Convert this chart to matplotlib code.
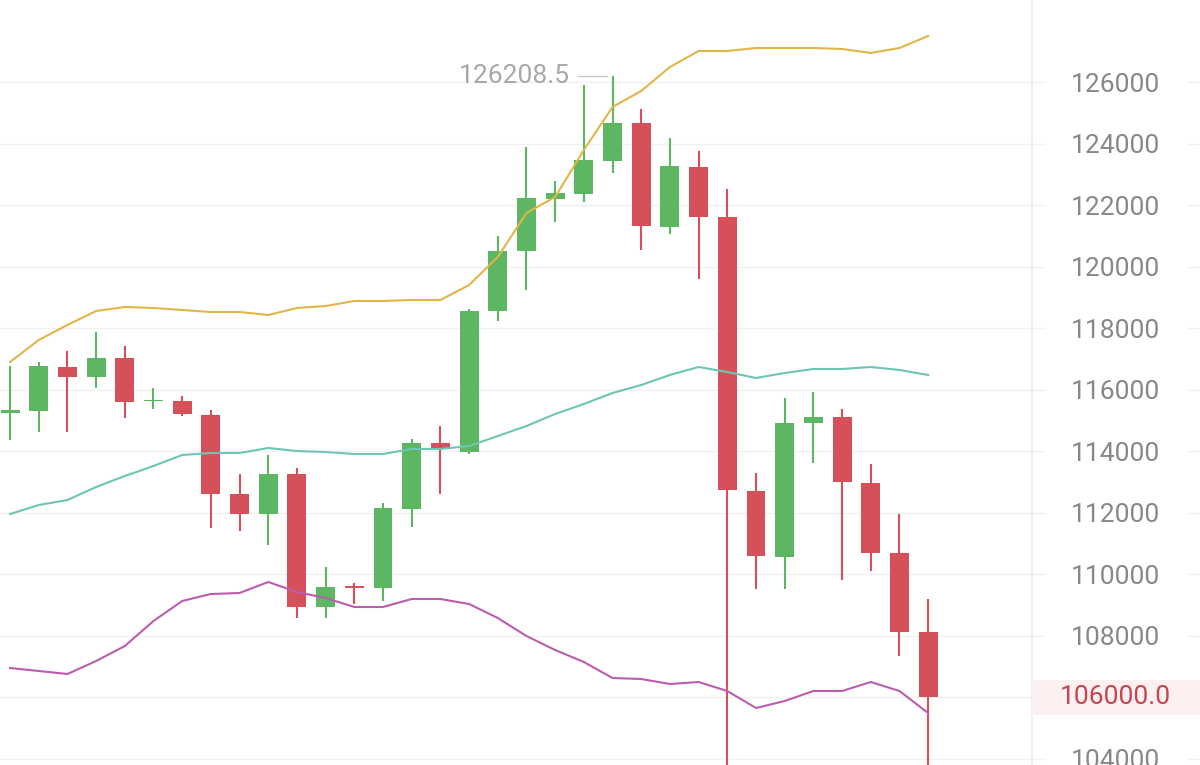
import numpy as np
import matplotlib
matplotlib.use("Agg")
import matplotlib.pyplot as plt
from matplotlib.lines import Line2D
from matplotlib.patches import Rectangle
import matplotlib.transforms as mtransforms

plt.rcParams['font.family'] = ['Roboto', 'DejaVu Sans']

# ---------------- data ----------------
opens = [115243, 115308, 116738, 116413, 117030, 115620, 115632, 115178, 112610, 111960,
         113260, 108938, 109620, 109555, 112123, 114268, 113975, 118558, 120508, 122198,
         122360, 123433, 124668, 121288, 123238, 121613, 112708, 110563, 114918, 115113,
         112968, 110693, 108125]
highs = [116770, 116900, 117258, 117875, 117420, 116055, 115795, 115340, 113260, 113878,
         113455, 110238, 109718, 112318, 114398, 114820, 118623, 120995, 123888, 122783,
         125903, 126208.5, 125123, 124180, 123758, 122523, 113293, 115730, 115925, 115373,
         113585, 111960, 109198]
lows = [114365, 114625, 114625, 116055, 115080, 115370, 115150, 111505, 111408, 110953,
        108580, 108580, 109035, 109133, 111538, 112610, 113900, 118233, 119240, 121450,
        122100, 123043, 120540, 121060, 119598, 103500, 109523, 109523, 113618, 109815,
        110108, 107345, 103500]
closes = [115340, 116770, 116413, 117030, 115600, 115680, 115210, 112610, 111960, 113260,
          108938, 109588, 109555, 112155, 114268, 114073, 118558, 120508, 122230, 122393,
          123465, 124668, 121320, 123270, 121613, 112740, 110595, 114918, 115113, 113000,
          110693, 108125, 106000]

boll_upper = [116900, 117615, 118103, 118558, 118688, 118655, 118590, 118525, 118525, 118428,
              118655, 118720, 118883, 118883, 118915, 118915, 119403, 120313, 121743, 122263,
              123790, 125188, 125708, 126488, 127008, 127008, 127105, 127105, 127105, 127073,
              126943, 127105, 127495]
boll_mid = [111960, 112253, 112415, 112838, 113195, 113520, 113878, 113943, 113943, 114105,
            114008, 113975, 113910, 113910, 114073, 114073, 114170, 114495, 114820, 115210,
            115535, 115893, 116153, 116478, 116738, 116575, 116380, 116543, 116673, 116673,
            116738, 116640, 116478]
boll_lower = [106955, 106858, 106760, 107183, 107670, 108483, 109133, 109360, 109393, 109750,
              109425, 109230, 108938, 108938, 109198, 109198, 109035, 108580, 107995, 107540,
              107150, 106630, 106598, 106435, 106500, 106208, 105655, 105883, 106208, 106208,
              106500, 106208, 105493]

ytick_values = [104000, 106000, 108000, 110000, 112000, 114000, 116000,
                118000, 120000, 122000, 124000, 126000]
current_price = 106000.0

# ---------------- style ----------------
UP = '#5cb662'
DOWN = '#d6505a'
C_UP = '#e2b548'
C_MID = '#6cc6b2'
C_LOW = '#bc5cae'
GRID = '#f1f1f1'
LABEL = '#888888'

W, H = 1200, 765
fig = plt.figure(figsize=(W / 100, H / 100), dpi=100)
fig.patch.set_facecolor('white')
ax_right_px = 1032
ax = fig.add_axes([0, 0, ax_right_px / W, 1])

n = len(opens)
x = np.arange(n)
o = np.array(opens, float)
c = np.array(closes, float)
h = np.array(highs, float)
l = np.array(lows, float)
up = c >= o
colors = np.where(up, UP, DOWN)

# wicks
ax.vlines(x, l, h, colors=colors, linewidth=1.5, zorder=3)
# bodies
bottoms = np.minimum(o, c)
heights = np.maximum(np.abs(c - o), 60)
ax.bar(x, heights, bottom=bottoms, width=0.66, color=colors, edgecolor='none', zorder=4)

# Bollinger bands
ax.plot(x, boll_upper, color=C_UP, lw=1.5, zorder=5)
ax.plot(x, boll_mid, color=C_MID, lw=1.5, zorder=5)
ax.plot(x, boll_lower, color=C_LOW, lw=1.5, zorder=5)

# max annotation
imax = int(np.argmax(h))
ax.plot([imax - 1.2, imax - 0.2], [h[imax], h[imax]], color='#c8c8c8', lw=1, zorder=5)
ax.text(imax - 1.5, h[imax], f"{h[imax]:.1f}", ha='right', va='center',
        fontsize=19, color='#a8a8a8', zorder=6)

ax.set_xlim(-0.35, 35.62)
ax.set_ylim(103803, 128665)

for s in ['top', 'left', 'bottom']:
    ax.spines[s].set_visible(False)
ax.spines['right'].set_color('#ececec')
ax.spines['right'].set_linewidth(1.2)

ax.set_xticks([])
ax.yaxis.tick_right()
ax.set_yticks(ytick_values)
ax.set_yticklabels(['' if v == current_price else f"{v}" for v in ytick_values])
ax.tick_params(axis='y', length=0, pad=60, labelsize=19, labelcolor=LABEL)
for lab in ax.get_yticklabels():
    lab.set_horizontalalignment('center')
ax.yaxis.grid(True, color=GRID, lw=1)
ax.set_axisbelow(True)

# grid extension on right label area
blend = mtransforms.blended_transform_factory(fig.transFigure, ax.transData)
for v in ytick_values:
    for x0, x1 in [(ax_right_px, 1045), (1187, W)]:
        fig.add_artist(Line2D([x0 / W, x1 / W], [v, v], transform=blend,
                              color=GRID, lw=1, zorder=-1))

# current price tag
px_per_unit = H / (128665 - 103803)
half_h = 17.5 / px_per_unit
rect = Rectangle((ax_right_px / W, current_price - half_h), 1 - ax_right_px / W, 2 * half_h,
                 transform=blend, facecolor='#fdf0f0', edgecolor='none', zorder=1)
fig.add_artist(rect)
fig.text(1115 / W, current_price, f"{current_price:.1f}", transform=blend,
         ha='center', va='center', fontsize=19, color='#c7434f', zorder=2)

fig.savefig('out.png', dpi=100, facecolor='white')
